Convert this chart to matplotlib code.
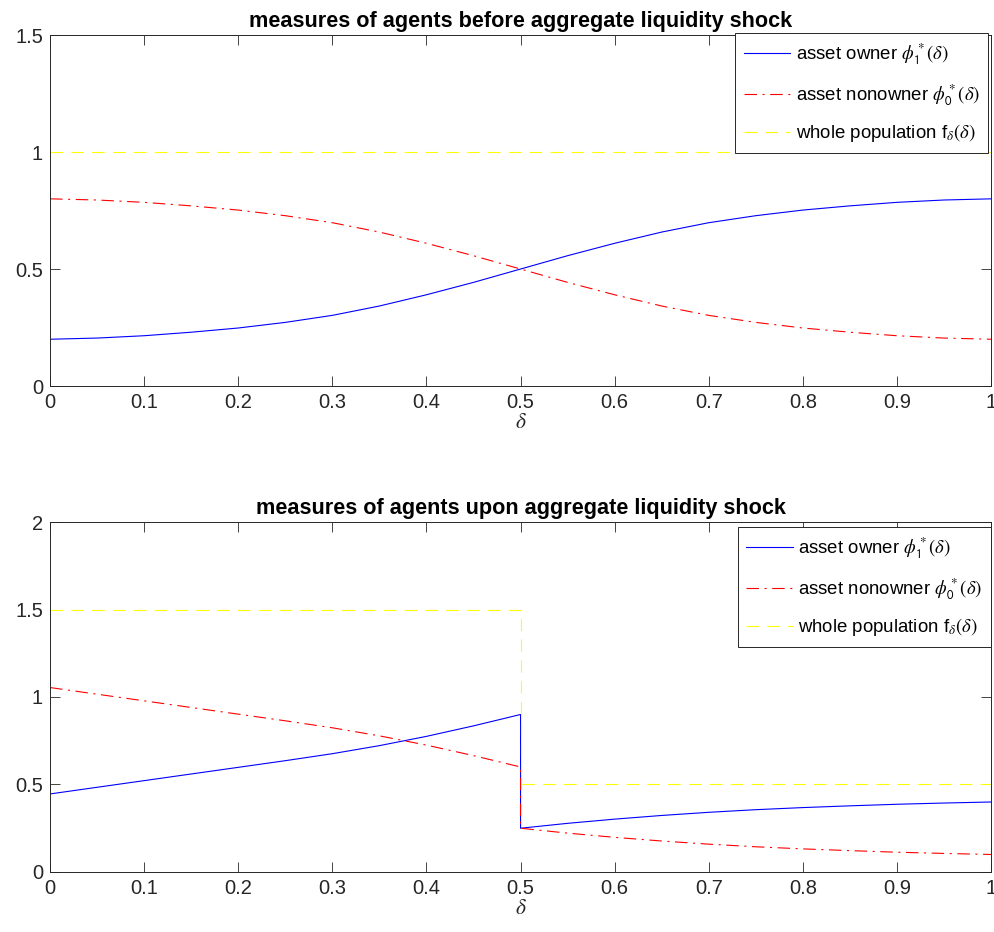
import matplotlib

matplotlib.use("Agg")
import matplotlib.pyplot as plt
import numpy as np

plt.rcParams["font.family"] = ["Liberation Sans", "DejaVu Sans"]
plt.rcParams["mathtext.fontset"] = "stix"
plt.rcParams["lines.scale_dashes"] = False

# delta grid for the steady-state curves
delta = [0.0, 0.05, 0.1, 0.15, 0.2, 0.25, 0.3, 0.35, 0.4, 0.45, 0.5,
         0.55, 0.6, 0.65, 0.7, 0.75, 0.8, 0.85, 0.9, 0.95, 1.0]
owner_before = [0.200, 0.205, 0.215, 0.230, 0.248, 0.272, 0.302, 0.342, 0.390, 0.443, 0.500,
                0.557, 0.610, 0.658, 0.698, 0.728, 0.752, 0.770, 0.785, 0.795, 0.800]
nonowner_before = [0.800, 0.795, 0.785, 0.770, 0.752, 0.728, 0.698, 0.658, 0.610, 0.557, 0.500,
                   0.443, 0.390, 0.342, 0.302, 0.272, 0.248, 0.230, 0.215, 0.205, 0.200]
population_before = [1.0] * len(delta)

# after the shock the curves jump at delta = 0.5
delta_shock = [0.0, 0.05, 0.1, 0.15, 0.2, 0.25, 0.3, 0.35, 0.4, 0.45, 0.5,
               0.5, 0.55, 0.6, 0.65, 0.7, 0.75, 0.8, 0.85, 0.9, 0.95, 1.0]
owner_shock = [0.446, 0.484, 0.522, 0.560, 0.598, 0.636, 0.676, 0.722, 0.775, 0.835, 0.900,
               0.250, 0.278, 0.302, 0.323, 0.341, 0.356, 0.368, 0.378, 0.387, 0.394, 0.400]
nonowner_shock = [1.054, 1.016, 0.978, 0.940, 0.902, 0.864, 0.824, 0.778, 0.725, 0.665, 0.600,
                  0.250, 0.222, 0.198, 0.177, 0.159, 0.144, 0.132, 0.122, 0.113, 0.106, 0.100]
population_shock = [1.5] * 11 + [0.5] * 11

labels = [r"asset owner $\phi^*_{\mathsf{1}}(\delta)$",
          r"asset nonowner $\phi^*_{\mathsf{0}}(\delta)$",
          r"whole population f$_{\delta}(\delta)$"]

AX_COLOR = "#262626"
FS = 14.5


def draw_panel(ax, x, owner, nonowner, population, title, ymax, yticks, legend_anchor):
    ax.plot(x, owner, color="blue", lw=0.8, label=labels[0])
    ax.plot(x, nonowner, color="red", lw=0.8, linestyle=(0, (9, 4, 1.5, 4)), label=labels[1])
    ax.plot(x, population, color="yellow", lw=0.8, linestyle=(0, (9, 6)), label=labels[2])
    ax.set_xlim(0, 1)
    ax.set_ylim(0, ymax)
    ax.set_xticks(np.round(np.arange(0, 1.01, 0.1), 1))
    ax.set_xticklabels(["0", "0.1", "0.2", "0.3", "0.4", "0.5", "0.6", "0.7", "0.8", "0.9", "1"])
    ax.set_yticks(yticks)
    ax.set_yticklabels([f"{t:g}" for t in yticks])
    ax.tick_params(direction="in", length=7, width=0.6, top=True, right=True,
                   labelsize=FS, colors=AX_COLOR, pad=5)
    for sp in ax.spines.values():
        sp.set_color(AX_COLOR)
        sp.set_linewidth(0.7)
    ax.set_xlabel(r"$\delta$", fontsize=FS + 1, labelpad=0, color=AX_COLOR)
    ax.set_title(title, fontsize=15.6, fontweight="bold", pad=6)
    leg = ax.legend(loc="upper right", bbox_to_anchor=legend_anchor, fontsize=13.4,
                    frameon=True, fancybox=False, framealpha=1, edgecolor=AX_COLOR,
                    handlelength=2.5, handletextpad=0.3, labelspacing=0.8,
                    borderpad=0.45, borderaxespad=0)
    leg.get_frame().set_linewidth(0.7)


fig = plt.figure(figsize=(9.95, 9.32), dpi=100)
ax_top = fig.add_axes([0.0503, 0.5858, 0.9457, 0.3766])
ax_bot = fig.add_axes([0.0503, 0.0644, 0.9457, 0.3755])

draw_panel(ax_top, delta, owner_before, nonowner_before, population_before,
           "measures of agents before aggregate liquidity shock", 1.5,
           [0, 0.5, 1, 1.5], (0.997, 1.006))
draw_panel(ax_bot, delta_shock, owner_shock, nonowner_shock, population_shock,
           "measures of agents upon aggregate liquidity shock", 2,
           [0, 0.5, 1, 1.5, 2], (0.9995, 0.986))

fig.savefig("out.png", dpi=100)
plt.close(fig)
